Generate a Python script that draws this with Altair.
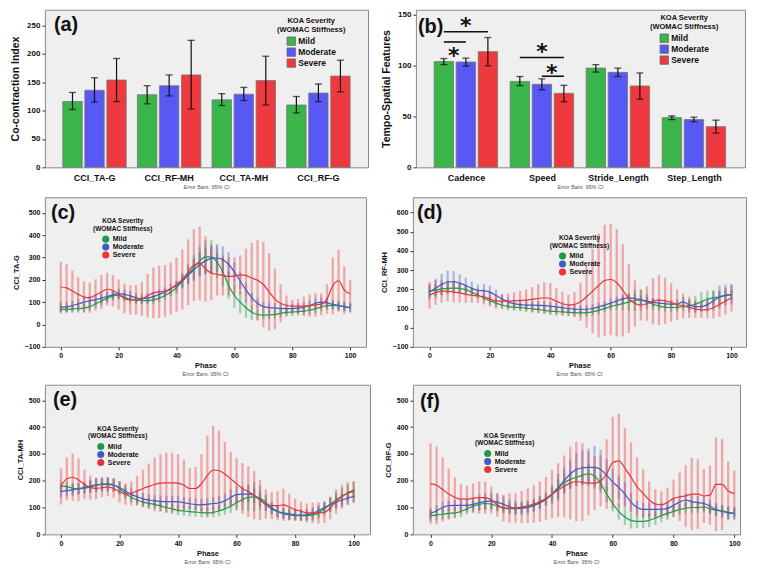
import altair as alt
import pandas as pd

FONT = "Liberation Sans"
GROUPS = ["Mild", "Moderate", "Severe"]
BAR_COLORS = ["#39b54a", "#5858f5", "#ee3a3e"]
LINE_COLORS = ["#1e9b4a", "#3d5cc4", "#ec3237"]

# ---------------- (a) co-contraction index bars ----------------
cats_a = ["CCI_TA-G", "CCI_RF-MH", "CCI_TA-MH", "CCI_RF-G"]
a_mild = [116, 128, 119, 110]
a_mild_lo = [102, 112, 109, 96]
a_mild_hi = [132, 144, 130, 125]
a_mod = [136, 144, 129, 131]
a_mod_lo = [115, 126, 118, 116]
a_mod_hi = [158, 163, 141, 147]
a_sev = [154, 163, 153, 161]
a_sev_lo = [116, 103, 110, 133]
a_sev_hi = [192, 224, 196, 189]

# ---------------- (b) tempo-spatial features bars ----------------
cats_b = ["Cadence", "Speed", "Stride_Length", "Step_Length"]
b_mild = [104, 84.5, 97.6, 48.9]
b_mild_lo = [101, 80.4, 93.7, 47]
b_mild_hi = [107, 89.3, 101, 50.5]
b_mod = [103.6, 81.7, 93.4, 47]
b_mod_lo = [99.5, 76.3, 89.3, 44.8]
b_mod_hi = [107.4, 87, 97.6, 49.3]
b_sev = [113.8, 72.8, 80, 40]
b_sev_lo = [99.8, 64.5, 67, 33.7]
b_sev_hi = [127.7, 80.7, 92.8, 46.4]

sig_id = ["c_long", "c_long", "c_short", "c_short", "s_long", "s_long", "s_short", "s_short"]
sig_cat = ["Cadence", "Cadence", "Cadence", "Cadence", "Speed", "Speed", "Speed", "Speed"]
sig_grp = ["Mild", "Severe", "Mild", "Moderate", "Mild", "Severe", "Moderate", "Severe"]
sig_y = [133.4, 133.4, 123.3, 123.3, 108, 108, 89.6, 89.6]
star_long_cat = ["Cadence", "Speed"]
star_long_grp = ["Moderate", "Moderate"]
star_long_y = [145, 119]
star_short_cat = ["Cadence", "Speed"]
star_short_grp = ["Mild", "Moderate"]
star_short_y = [115.7, 99]

# ---------------- line panels: phase 0..100 step 2 ----------------
phase = [0, 2, 4, 6, 8, 10, 12, 14, 16, 18, 20, 22, 24, 26, 28, 30, 32, 34, 36, 38, 40,
         42, 44, 46, 48, 50, 52, 54, 56, 58, 60, 62, 64, 66, 68, 70, 72, 74, 76, 78, 80,
         82, 84, 86, 88, 90, 92, 94, 96, 98, 100]

# (c) CCI_TA-G : mean and 95% CI half width
c_mild = [68, 68, 70, 71, 73, 80, 92, 105, 117, 128, 132, 122, 113, 110, 108, 107, 110, 118, 130, 145,
          165, 195, 225, 255, 285, 303, 303, 280, 235, 175, 130, 100, 75, 55, 45, 42, 43, 45, 50, 54,
          56, 58, 60, 64, 70, 78, 85, 86, 84, 80, 75]
c_mild_h = [18, 18, 18, 18, 18, 18, 18, 18, 18, 18, 18, 18, 18, 18, 18, 18, 18, 18, 19, 20,
            25, 35, 45, 55, 65, 75, 75, 70, 65, 60, 55, 50, 45, 35, 25, 18, 18, 18, 18, 18,
            18, 18, 18, 18, 18, 18, 18, 18, 18, 18, 18]
c_mod = [78, 79, 85, 92, 100, 106, 112, 118, 125, 133, 138, 135, 128, 120, 116, 118, 125, 135, 145, 160,
         175, 195, 220, 245, 268, 285, 296, 298, 290, 270, 235, 195, 155, 120, 95, 80, 76, 74, 72, 71,
         71, 73, 78, 85, 95, 100, 97, 90, 85, 80, 75]
c_mod_h = [22, 22, 22, 22, 22, 22, 22, 22, 22, 22, 22, 22, 22, 22, 22, 22, 22, 22, 22, 22,
           22, 30, 40, 50, 55, 60, 62, 62, 60, 55, 45, 38, 30, 22, 22, 22, 22, 22, 22, 22,
           22, 22, 22, 22, 22, 22, 22, 22, 22, 22, 22]
c_sev = [168, 164, 150, 135, 123, 120, 132, 146, 158, 152, 135, 117, 110, 110, 114, 129, 142, 146, 150, 161,
         179, 202, 234, 266, 274, 249, 230, 225, 220, 215, 217, 222, 220, 208, 198, 179, 146, 114, 95, 85,
         82, 82, 82, 85, 88, 91, 114, 173, 196, 154, 138]
c_sev_h = [113, 107, 92, 77, 70, 67, 70, 76, 73, 70, 67, 66, 66, 66, 76, 98, 114, 117, 116, 117,
           121, 135, 147, 161, 165, 146, 121, 95, 90, 85, 85, 88, 120, 157, 180, 191, 174, 136, 85, 45,
           28, 33, 43, 50, 52, 49, 66, 127, 139, 106, 62]

# (d) CCI_RF-MH
d_mild = [190, 195, 202, 205, 206, 205, 198, 185, 170, 155, 140, 128, 118, 110, 107, 105, 102, 98, 95, 90,
          86, 84, 82, 80, 78, 77, 78, 82, 90, 100, 110, 118, 125, 133, 142, 145, 135, 122, 112, 106,
          105, 106, 110, 115, 122, 135, 148, 155, 160, 167, 172]
d_mild_h = [30, 30, 30, 30, 30, 28, 26, 20, 20, 20, 20, 20, 20, 20, 20, 20, 20, 20, 20, 20,
            20, 20, 20, 20, 20, 20, 20, 20, 20, 20, 20, 25, 35, 45, 55, 55, 40, 30, 22, 22,
            22, 22, 22, 35, 45, 50, 45, 40, 35, 30, 25]
d_mod = [188, 205, 225, 238, 240, 232, 220, 205, 195, 192, 185, 168, 150, 135, 125, 120, 118, 117, 116, 115,
         112, 108, 104, 100, 97, 96, 96, 100, 108, 118, 128, 140, 150, 155, 152, 145, 138, 132, 128, 125,
         122, 122, 135, 118, 110, 110, 120, 140, 160, 170, 172]
d_mod_h = [40, 50, 55, 60, 55, 45, 40, 35, 30, 35, 35, 30, 22, 22, 22, 22, 22, 22, 22, 22,
           22, 22, 22, 22, 22, 22, 22, 22, 22, 22, 22, 22, 22, 22, 22, 22, 22, 22, 22, 22,
           22, 25, 25, 25, 25, 25, 35, 50, 60, 55, 50]
d_sev = [169, 183, 190, 191, 186, 181, 174, 169, 166, 161, 149, 138, 138, 138, 140, 142, 144, 147, 152, 156,
         152, 138, 126, 118, 121, 135, 161, 190, 220, 246, 251, 234, 195, 152, 126, 118, 126, 138, 144, 140,
         132, 121, 113, 106, 97, 92, 94, 104, 121, 138, 156]
d_sev_h = [70, 65, 60, 55, 55, 50, 45, 40, 38, 40, 40, 38, 38, 40, 45, 50, 55, 65, 75, 80,
           80, 70, 60, 55, 65, 100, 160, 220, 270, 290, 290, 280, 240, 180, 120, 80, 90, 120, 130, 120,
           100, 80, 65, 55, 45, 40, 45, 55, 65, 70, 72]

# (e) CCI_TA-MH
e_mild = [180, 178, 172, 170, 172, 176, 182, 187, 188, 185, 170, 152, 138, 128, 120, 116, 112, 106, 100, 95,
          90, 87, 85, 83, 81, 80, 82, 87, 95, 105, 118, 130, 138, 140, 135, 118, 100, 85, 76, 72,
          70, 70, 70, 72, 80, 95, 112, 128, 142, 155, 165]
e_mild_h = [20, 20, 20, 20, 20, 22, 24, 26, 26, 25, 22, 20, 18, 18, 18, 18, 18, 18, 18, 18,
            18, 18, 18, 18, 18, 18, 18, 20, 22, 25, 30, 40, 50, 55, 45, 30, 22, 20, 18, 18,
            18, 18, 18, 20, 22, 25, 28, 30, 30, 30, 30]
e_mod = [160, 163, 166, 170, 175, 180, 185, 186, 186, 183, 175, 162, 150, 140, 132, 128, 125, 123, 122, 122,
         121, 118, 114, 111, 110, 112, 115, 117, 125, 138, 148, 150, 150, 145, 130, 110, 95, 85, 80, 76,
         73, 72, 73, 78, 88, 100, 110, 120, 128, 135, 142]
e_mod_h = [22, 22, 22, 22, 22, 24, 25, 25, 25, 25, 24, 22, 22, 22, 22, 22, 22, 22, 22, 22,
           22, 22, 22, 22, 22, 22, 24, 26, 28, 30, 30, 30, 30, 28, 25, 22, 22, 22, 22, 22,
           22, 22, 22, 22, 22, 22, 24, 25, 25, 25, 25]
e_sev = [179, 207, 213, 203, 186, 174, 171, 174, 177, 171, 159, 150, 153, 162, 171, 179, 186, 191, 192, 192,
         191, 183, 171, 171, 189, 219, 240, 237, 225, 207, 189, 171, 159, 146, 128, 113, 107, 107, 110, 102,
         92, 86, 80, 80, 80, 82, 98, 122, 140, 153, 159]
e_sev_h = [68, 80, 88, 80, 55, 45, 40, 35, 35, 35, 40, 40, 45, 55, 70, 85, 100, 108, 112, 112,
           108, 95, 75, 80, 110, 150, 165, 150, 120, 100, 95, 95, 95, 90, 75, 55, 50, 55, 60, 50,
           40, 35, 35, 38, 40, 40, 42, 45, 45, 42, 40]

# (f) CCI_RF-G
f_mild = [70, 72, 75, 78, 80, 85, 95, 105, 112, 115, 113, 105, 98, 96, 96, 98, 102, 108, 118, 130,
          148, 170, 192, 205, 213, 220, 226, 218, 190, 150, 115, 85, 65, 52, 48, 48, 52, 60, 70, 78,
          85, 92, 98, 100, 100, 102, 95, 90, 88, 82, 78]
f_mild_h = [20, 20, 20, 20, 20, 20, 20, 22, 22, 22, 22, 20, 20, 20, 20, 20, 20, 20, 20, 20,
            35, 35, 35, 35, 35, 35, 35, 35, 35, 30, 30, 30, 30, 30, 25, 25, 25, 25, 25, 25,
            20, 20, 20, 20, 20, 20, 20, 20, 20, 20, 20]
f_mod = [78, 88, 100, 107, 108, 108, 108, 112, 118, 122, 125, 120, 112, 103, 98, 97, 100, 108, 118, 132,
         150, 175, 200, 225, 242, 248, 250, 250, 242, 220, 195, 175, 150, 120, 100, 93, 93, 93, 94, 97,
         108, 120, 128, 122, 118, 115, 105, 92, 85, 80, 78]
f_mod_h = [20, 20, 20, 20, 20, 20, 20, 20, 30, 30, 30, 30, 30, 25, 25, 25, 25, 25, 25, 25,
           25, 50, 50, 55, 60, 65, 70, 80, 75, 60, 50, 45, 45, 35, 25, 25, 25, 25, 25, 25,
           25, 25, 25, 25, 25, 25, 25, 25, 25, 25, 25]
f_sev = [189, 183, 167, 150, 138, 131, 131, 135, 137, 137, 128, 110, 98, 98, 98, 102, 106, 113, 122, 134,
         150, 165, 179, 191, 197, 195, 191, 191, 199, 225, 268, 274, 247, 213, 177, 153, 128, 113, 110, 119,
         134, 140, 143, 150, 150, 143, 146, 186, 186, 162, 153]
f_sev_h = [150, 145, 120, 95, 75, 55, 50, 55, 60, 60, 50, 45, 50, 55, 55, 60, 65, 70, 75, 80,
           90, 100, 115, 135, 148, 145, 120, 100, 95, 130, 170, 175, 150, 130, 110, 90, 70, 55, 50, 55,
           70, 90, 115, 135, 130, 100, 110, 175, 170, 110, 85]

LEGEND_TITLE = ["KOA Severity", "(WOMAC Stiffness)"]
NOTE = "Error Bars: 95% CI"


def note_title():
    return alt.TitleParams(NOTE, orient="bottom", fontSize=5.5, fontWeight="normal",
                           color="#555555", offset=3, anchor="middle", font=FONT)


def panel_label(text, x, y):
    return alt.Chart(pd.DataFrame({"t": [text]})).mark_text(
        font=FONT, fontSize=20, fontWeight="bold", align="left", baseline="top", color="#111111"
    ).encode(x=alt.value(x), y=alt.value(y), text="t:N")


def bar_legend(lx, ly):
    return alt.Legend(title=LEGEND_TITLE, orient="none", legendX=lx, legendY=ly,
                      titleFont=FONT, labelFont=FONT, titleFontWeight="bold", labelFontWeight="bold",
                      titleFontSize=7.5, labelFontSize=8.5, titleLineHeight=9, titleAlign="center",
                      titleAnchor="middle", titleColor="#111111", labelColor="#111111",
                      symbolType="square", symbolSize=70, symbolStrokeColor="#666666",
                      symbolStrokeWidth=0.8, rowPadding=-4, padding=0, titlePadding=3, labelOffset=2)


def bar_panel(cats, mild, mild_lo, mild_hi, mod, mod_lo, mod_hi, sev, sev_lo, sev_hi,
              ymax, yticks, ytitle, legend):
    rows = []
    for g, v, lo, hi in [("Mild", mild, mild_lo, mild_hi),
                         ("Moderate", mod, mod_lo, mod_hi),
                         ("Severe", sev, sev_lo, sev_hi)]:
        for c, vv, ll, hh in zip(cats, v, lo, hi):
            rows.append({"cat": c, "g": g, "val": vv, "lo": ll, "hi": hh})
    df = pd.DataFrame(rows)
    x = alt.X("cat:N", sort=cats, scale=alt.Scale(paddingInner=0.15, paddingOuter=0.24),
              axis=alt.Axis(title=None, labelAngle=0, labelFontSize=9, ticks=False, labelPadding=6))
    xo = alt.XOffset("g:N", sort=GROUPS, scale=alt.Scale(paddingInner=0.12, paddingOuter=0))
    ysc = alt.Scale(domain=[0, ymax], nice=False, zero=True)
    yax = alt.Axis(values=yticks, title=ytitle, titleFontSize=10.5, labelFontSize=8, titlePadding=6)
    bars = alt.Chart(df).mark_bar(stroke="#777777", strokeWidth=0.8).encode(
        x=x, xOffset=xo, y=alt.Y("val:Q", scale=ysc, axis=yax),
        color=alt.Color("g:N", sort=GROUPS, scale=alt.Scale(domain=GROUPS, range=BAR_COLORS), legend=legend))
    rule = alt.Chart(df).mark_rule(color="#111111", strokeWidth=1.2).encode(
        x=x, xOffset=xo, y=alt.Y("lo:Q", scale=ysc, axis=yax), y2="hi:Q")
    cap_lo = alt.Chart(df).mark_tick(orient="horizontal", size=7, thickness=1.3, color="#111111").encode(
        x=x, xOffset=xo, y=alt.Y("lo:Q", scale=ysc, axis=yax))
    cap_hi = alt.Chart(df).mark_tick(orient="horizontal", size=7, thickness=1.3, color="#111111").encode(
        x=x, xOffset=xo, y=alt.Y("hi:Q", scale=ysc, axis=yax))
    return [bars, rule, cap_lo, cap_hi], x, xo, ysc, yax


def line_legend(lx, ly):
    return alt.Legend(title=LEGEND_TITLE, orient="none", legendX=lx, legendY=ly,
                      titleFont=FONT, labelFont=FONT, titleFontWeight="bold", labelFontWeight="bold",
                      titleFontSize=6.5, labelFontSize=7, titleLineHeight=7.5, titleAlign="center",
                      titleAnchor="middle", titleColor="#111111", labelColor="#111111",
                      symbolType="circle", symbolSize=50, symbolOpacity=1, symbolStrokeWidth=0,
                      rowPadding=-6, padding=0, titlePadding=3, labelOffset=3)


def line_panel(label, lab_xy, ytitle, series, ydomain, yticks, xdomain, lxy, w, h):
    frames = []
    for g, (m, hw) in zip(GROUPS, series):
        frames.append(pd.DataFrame({
            "Phase": phase, "g": g, "mean": m,
            "lo": [a - b for a, b in zip(m, hw)],
            "hi": [a + b for a, b in zip(m, hw)],
        }))
    df = pd.concat(frames, ignore_index=True)
    x = alt.X("Phase:Q", scale=alt.Scale(domain=xdomain, nice=False, zero=False),
              axis=alt.Axis(values=[0, 20, 40, 60, 80, 100], title="Phase", labelFontSize=7,
                            titleFontSize=7.5, titlePadding=3))
    ysc = alt.Scale(domain=ydomain, nice=False, zero=False)
    yax = alt.Axis(values=yticks, title=ytitle, labelFontSize=7, titleFontSize=7.5, titlePadding=4)
    cs = alt.Scale(domain=GROUPS, range=LINE_COLORS)
    leg = line_legend(*lxy)
    keys = alt.Chart(df).mark_circle(size=50, opacity=0).encode(
        x=x, y=alt.Y("mean:Q", scale=ysc, axis=yax),
        color=alt.Color("g:N", sort=GROUPS, scale=cs, legend=leg))
    rules = alt.Chart(df).mark_rule(strokeWidth=2.3, opacity=0.38).encode(
        x=x, y=alt.Y("lo:Q", scale=ysc, axis=yax), y2="hi:Q",
        color=alt.Color("g:N", sort=GROUPS, scale=cs, legend=leg))
    lines = alt.Chart(df).mark_line(strokeWidth=1.2, interpolate="monotone").encode(
        x=x, y=alt.Y("mean:Q", scale=ysc, axis=yax),
        color=alt.Color("g:N", sort=GROUPS, scale=cs, legend=leg))
    return alt.layer(keys, rules, lines, panel_label(label, *lab_xy)).properties(
        width=w, height=h, title=note_title())


# ---- panel (a)
layers_a, xa, xoa, ysa, yaa = bar_panel(cats_a, a_mild, a_mild_lo, a_mild_hi, a_mod, a_mod_lo, a_mod_hi,
                                        a_sev, a_sev_lo, a_sev_hi, 278, [0, 50, 100, 150, 200, 250],
                                        "Co-contraction Index", bar_legend(233, 7))
panel_a = alt.layer(*layers_a, panel_label("(a)", 9, 5)).properties(width=324, height=158, title=note_title())

# ---- panel (b)
layers_b, xb, xob, ysb, yab = bar_panel(cats_b, b_mild, b_mild_lo, b_mild_hi, b_mod, b_mod_lo, b_mod_hi,
                                        b_sev, b_sev_lo, b_sev_hi, 155, [0, 50, 100, 150],
                                        "Tempo-Spatial Features", bar_legend(235, 4))
sig_df = pd.DataFrame({"id": sig_id, "cat": sig_cat, "g": sig_grp, "y": sig_y})
sig = alt.Chart(sig_df).mark_line(color="#111111", strokeWidth=1.6).encode(
    x=xb, xOffset=xob, y=alt.Y("y:Q", scale=ysb, axis=yab), detail="id:N")
star_l = alt.Chart(pd.DataFrame({"cat": star_long_cat, "g": star_long_grp, "y": star_long_y, "s": ["*", "*"]})
                   ).mark_text(font="DejaVu Sans", fontSize=22, fontWeight="bold", baseline="middle",
                               dy=6, color="#111111").encode(
    x=xb, xOffset=xob, y=alt.Y("y:Q", scale=ysb, axis=yab), text="s:N")
star_s = alt.Chart(pd.DataFrame({"cat": star_short_cat, "g": star_short_grp, "y": star_short_y, "s": ["*", "*"]})
                   ).mark_text(font="DejaVu Sans", fontSize=22, fontWeight="bold", baseline="middle",
                               dx=10, dy=6, color="#111111").encode(
    x=xb, xOffset=xob, y=alt.Y("y:Q", scale=ysb, axis=yab), text="s:N")
panel_b = alt.layer(*layers_b, sig, star_l, star_s, panel_label("(b)", 2, 7)).properties(
    width=330, height=158, title=note_title())

H2 = 150
panel_c = line_panel("(c)", (6, 6), "CCI_TA-G", [(c_mild, c_mild_h), (c_mod, c_mod_h), (c_sev, c_sev_h)],
                     [-100, 570], [-100, 0, 100, 200, 300, 400, 500], [-5.5, 105.5], (48, 21), 322, H2)
panel_d = line_panel("(d)", (4, 6), "CCI_RF-MH", [(d_mild, d_mild_h), (d_mod, d_mod_h), (d_sev, d_sev_h)],
                     [-100, 680], [-100, 0, 100, 200, 300, 400, 500, 600], [-5.5, 104.8], (137, 38), 334, H2)
panel_e = line_panel("(e)", (8, 5), "CCI_TA-MH", [(e_mild, e_mild_h), (e_mod, e_mod_h), (e_sev, e_sev_h)],
                     [0, 558], [0, 100, 200, 300, 400, 500], [-5.5, 105.6], (43, 41), 326, H2)
panel_f = line_panel("(f)", (7, 7), "CCI_RF-G", [(f_mild, f_mild_h), (f_mod, f_mod_h), (f_sev, f_sev_h)],
                     [0, 558], [0, 100, 200, 300, 400, 500], [-5.8, 101.9], (62, 48), 328, H2)

row1 = alt.hconcat(panel_a, panel_b, spacing=12).resolve_scale(color="independent")
row2 = alt.hconcat(panel_c, panel_d, spacing=12).resolve_scale(color="independent")
row3 = alt.hconcat(panel_e, panel_f, spacing=12).resolve_scale(color="independent")

chart = alt.vconcat(row1, row2, row3, spacing=5).resolve_scale(color="independent").properties(
    background="white", padding={"left": 2, "top": 0, "right": 2, "bottom": 0}
).configure_view(
    fill="#efefef", stroke="#8a8a8a", strokeWidth=1
).configure_axis(
    grid=False, domain=False, tickSize=3, tickColor="#333333", labelFont=FONT, titleFont=FONT,
    labelFontWeight="bold", titleFontWeight="bold", labelColor="#111111", titleColor="#111111"
)

chart.save("out.html", embed_options={"renderer": "svg", "actions": False})
